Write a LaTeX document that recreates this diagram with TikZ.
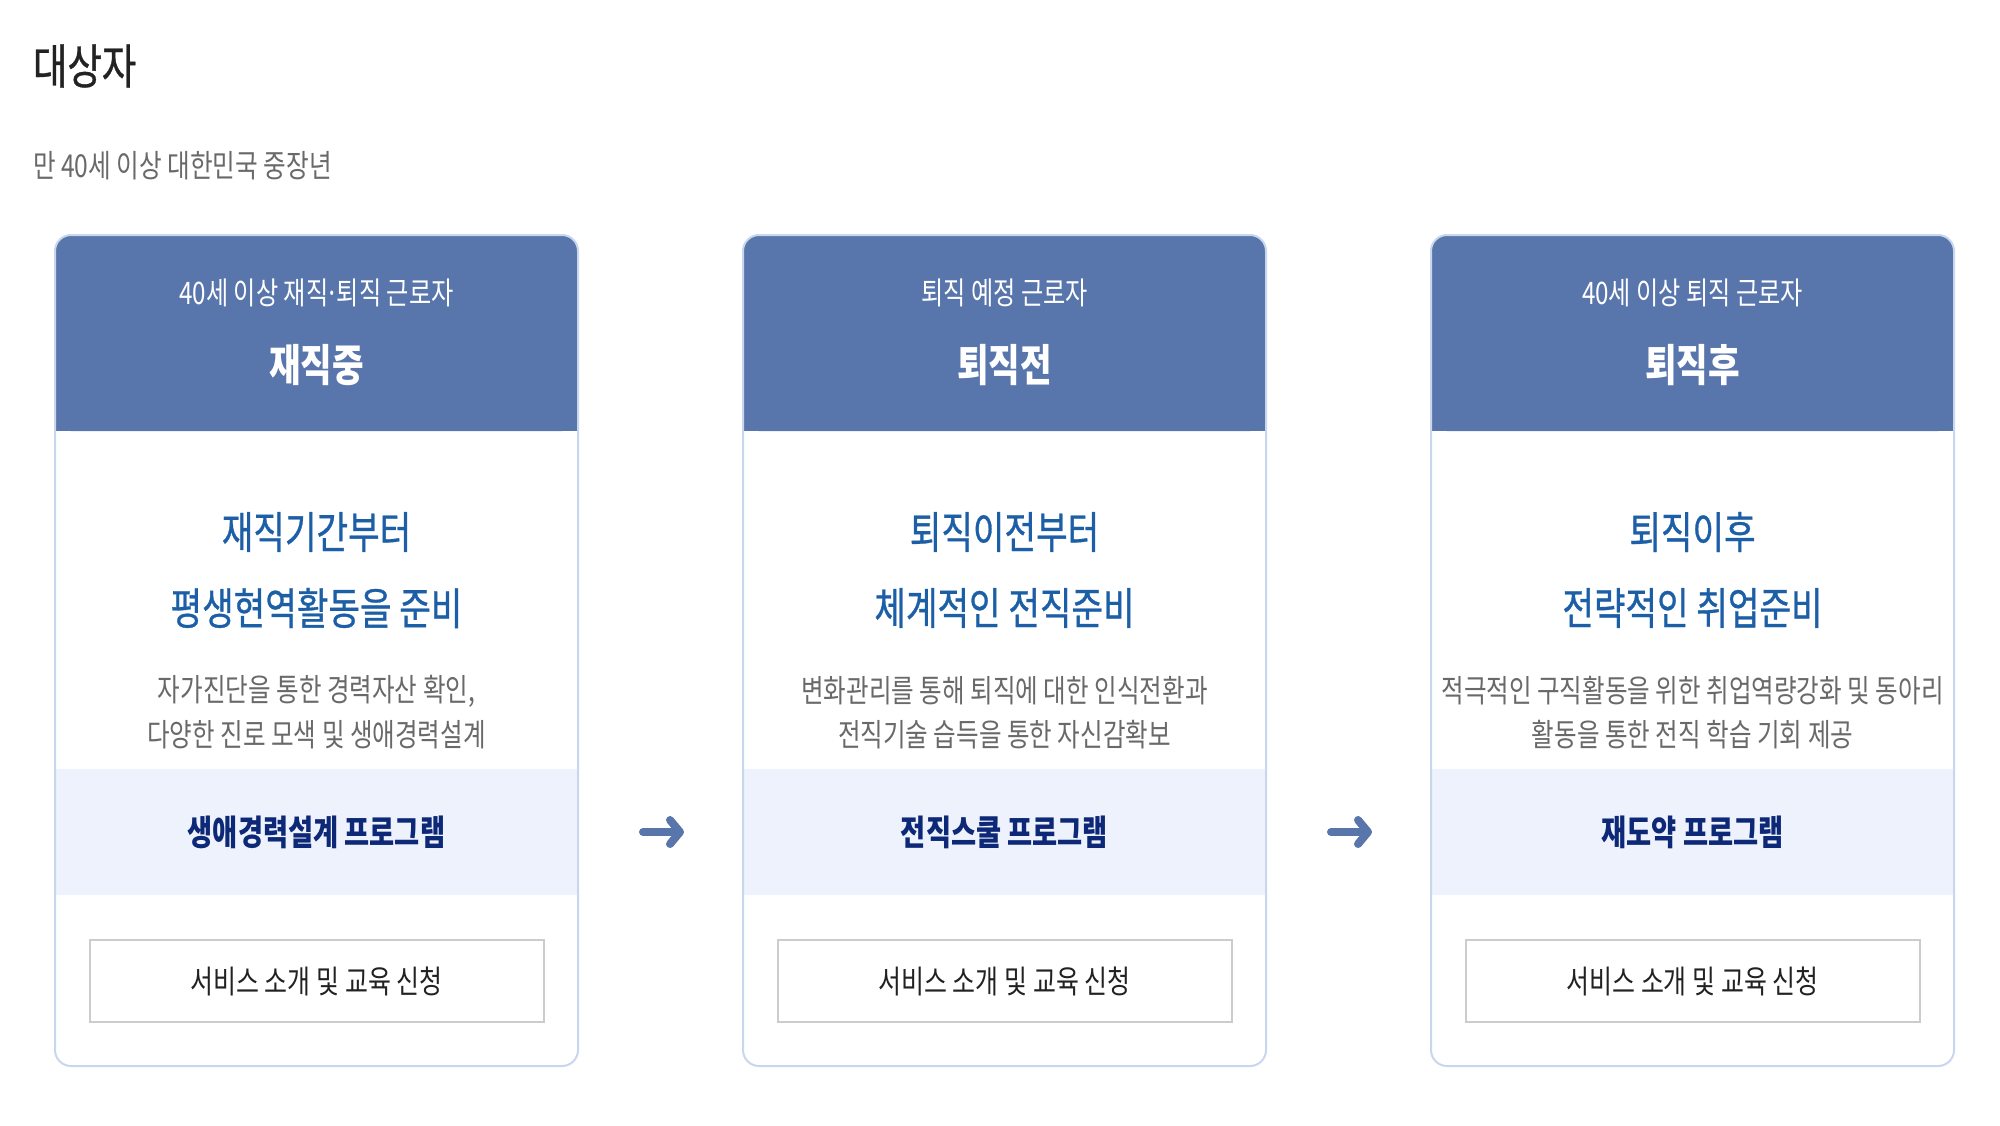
\documentclass[tikz,border=0pt]{standalone}
\usepackage{fontspec}
\setmainfont[FakeStretch=0.78]{Noto Sans CJK KR}
\newfontfamily\krmedium[FakeStretch=0.78,FakeBold=0.7]{Noto Sans CJK KR}
\usetikzlibrary{arrows.meta}

\definecolor{hdrblue}{RGB}{88,117,172}
\definecolor{headblue}{RGB}{28,95,166}
\definecolor{descgray}{RGB}{105,105,105}
\definecolor{prognavy}{RGB}{12,40,118}
\definecolor{bandblue}{RGB}{237,242,253}
\definecolor{cardedge}{RGB}{200,214,238}
\definecolor{btnedge}{RGB}{204,204,204}
\definecolor{darktext}{RGB}{34,34,34}

\newcommand{\narrowdot}{\makebox[0.28em]{·}}

\tikzset{every picture/.style={line width=1pt}}
\tikzset{
  titletext/.style={inner sep=0pt, anchor=west, text=darktext, font=\krmedium\fontsize{24}{28}\selectfont},
  subtext/.style={inner sep=0pt, anchor=west, text=descgray, font=\fontsize{15.8}{19}\selectfont},
  hdrsmall/.style={inner sep=0pt, text=white, font=\fontsize{15.5}{18}\selectfont},
  hdrbig/.style={inner sep=0pt, text=white, font=\bfseries\fontsize{22}{26}\selectfont},
  headline/.style={inner sep=0pt, text=headblue, font=\krmedium\fontsize{22}{26}\selectfont},
  descline/.style={inner sep=0pt, text=descgray, font=\fontsize{15.75}{19}\selectfont},
  bandbox/.style={inner sep=0pt, fill=bandblue, minimum width=260.5pt, minimum height=63pt, text=prognavy, font=\bfseries\fontsize{17.5}{21}\selectfont},
  btnbox/.style={inner sep=0pt, draw=btnedge, fill=white, minimum width=227pt, minimum height=41pt, text=darktext, font=\fontsize{16}{19}\selectfont},
  cardline/.style={draw=cardedge, rounded corners=8pt},
  flowarrow/.style={draw=hdrblue, line width=4pt, line cap=round, -{Straight Barb[round, length=5pt, width=12pt]}, shorten <=32.5pt, shorten >=29.5pt}
}

\begin{document}
\begin{tikzpicture}[x=0.5pt,y=0.5pt,yscale=-1,xscale=1]
\useasboundingbox (0,0) rectangle (2000,1125);

% Text Node
\draw (32,66) node (title) [titletext] {대상자};
% Text Node
\draw (32,166) node (subtitle) [subtext] {만 40세 이상 대한민국 중장년};

%Shape: Header [id:hdr1]
\fill[hdrblue, rounded corners=8pt] (55,235) rectangle (578,431);
\fill[hdrblue] (55,300) rectangle (578,431);
%Shape: Header [id:hdr2]
\fill[hdrblue, rounded corners=8pt] (743,235) rectangle (1266,431);
\fill[hdrblue] (743,300) rectangle (1266,431);
%Shape: Header [id:hdr3]
\fill[hdrblue, rounded corners=8pt] (1431,235) rectangle (1954,431);
\fill[hdrblue] (1431,300) rectangle (1954,431);

% Program bands
\draw (316.5,832) node (band1) [bandbox] {생애경력설계 프로그램};
\draw (1004.5,832) node (band2) [bandbox] {전직스쿨 프로그램};
\draw (1692.5,832) node (band3) [bandbox] {재도약 프로그램};

%Shape: Card outlines
\draw[cardline] (55,235) rectangle (578,1066);
\draw[cardline] (743,235) rectangle (1266,1066);
\draw[cardline] (1431,235) rectangle (1954,1066);

% Card 1
\draw (316.5,293) node (sub1) [hdrsmall] {40세 이상 재직\narrowdot 퇴직 근로자};
\draw (316.5,365) node (stage1) [hdrbig] {재직중};
\draw (316.5,532) node (headA1) [headline] {재직기간부터};
\draw (316.5,608) node (headB1) [headline] {평생현역활동을 준비};
\draw (316.5,691) node (descA1) [descline] {자가진단을 통한 경력자산 확인,};
\draw (316.5,735) node (descB1) [descline] {다양한 진로 모색 및 생애경력설계};
\draw (316.5,981) node (btn1) [btnbox] {서비스 소개 및 교육 신청};

% Card 2
\draw (1004.5,293) node (sub2) [hdrsmall] {퇴직 예정 근로자};
\draw (1004.5,365) node (stage2) [hdrbig] {퇴직전};
\draw (1004.5,532) node (headA2) [headline] {퇴직이전부터};
\draw (1004.5,608) node (headB2) [headline] {체계적인 전직준비};
\draw (1004.5,691) node (descA2) [descline] {변화관리를 통해 퇴직에 대한 인식전환과};
\draw (1004.5,735) node (descB2) [descline] {전직기술 습득을 통한 자신감확보};
\draw (1004.5,981) node (btn2) [btnbox] {서비스 소개 및 교육 신청};

% Card 3
\draw (1692.5,293) node (sub3) [hdrsmall] {40세 이상 퇴직 근로자};
\draw (1692.5,365) node (stage3) [hdrbig] {퇴직후};
\draw (1692.5,532) node (headA3) [headline] {퇴직이후};
\draw (1692.5,608) node (headB3) [headline] {전략적인 취업준비};
\draw (1692.5,691) node (descA3) [descline] {적극적인 구직활동을 위한 취업역량강화 및 동아리};
\draw (1692.5,735) node (descB3) [descline] {활동을 통한 전직 학습 기회 제공};
\draw (1692.5,981) node (btn3) [btnbox] {서비스 소개 및 교육 신청};

% Arrows
\draw[flowarrow] (band1.east) -- (band2.west);
\draw[flowarrow] (band2.east) -- (band3.west);

\end{tikzpicture}
\end{document}
